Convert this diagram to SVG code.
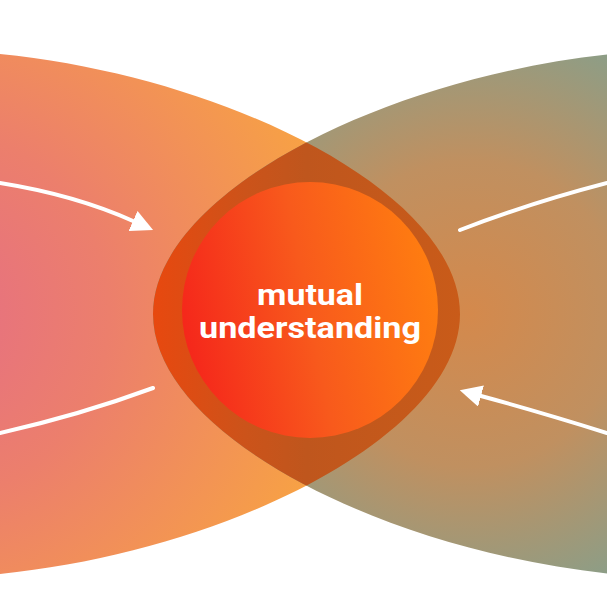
<svg xmlns="http://www.w3.org/2000/svg" width="607" height="607" viewBox="0 0 607 607">
  <style>
    .conn { fill: none; stroke: #ffffff; stroke-width: 4; stroke-linecap: round; }
    .label { font-family: Roboto, "Liberation Sans", sans-serif; font-weight: bold; font-size: 30px; fill: #ffffff; text-anchor: middle; }
  </style>
  <defs>
    <radialGradient id="gLeft" gradientUnits="userSpaceOnUse" cx="-80" cy="314" r="420">
      <stop offset="0" stop-color="#e56d86"/>
      <stop offset="0.45" stop-color="#ec7f6c"/>
      <stop offset="1" stop-color="#f7a145"/>
    </radialGradient>
    <radialGradient id="gRight" gradientUnits="userSpaceOnUse" cx="470" cy="314" r="340">
      <stop offset="0" stop-color="#d4894c"/>
      <stop offset="0.45" stop-color="#c09060"/>
      <stop offset="1" stop-color="#7ca293"/>
    </radialGradient>
    <linearGradient id="gOverlap" gradientUnits="userSpaceOnUse" x1="152" y1="314" x2="461" y2="314">
      <stop offset="0" stop-color="#e8480f"/>
      <stop offset="0.3" stop-color="#cc531a"/>
      <stop offset="0.5" stop-color="#bf561d"/>
      <stop offset="1" stop-color="#c95b19"/>
    </linearGradient>
    <linearGradient id="gCircle" gradientUnits="userSpaceOnUse" x1="182" y1="335" x2="438" y2="285">
      <stop offset="0" stop-color="#f5261b"/>
      <stop offset="0.5" stop-color="#f85a1c"/>
      <stop offset="1" stop-color="#ff7e10"/>
    </linearGradient>
    <path id="leftShape" d="M-30,50 L0,54 C230,77 460,194 460,314 C460,434 230,551 0,574 L-30,578 Z"/>
    <path id="rightShape" d="M643,50 L613,54 C383,77 153,194 153,314 C153,434 383,551 613,574 L643,578 Z"/>
    <clipPath id="clipLeft">
      <use href="#leftShape"/>
    </clipPath>
    <marker id="arrow" markerUnits="userSpaceOnUse" viewBox="0 0 22 22" refX="0" refY="11" markerWidth="22" markerHeight="22" orient="auto">
      <path d="M0,0 L22,11 L0,22 Z" fill="#ffffff"/>
    </marker>
  </defs>

  <g id="left-lens">
    <use href="#leftShape" fill="url(#gLeft)"/>
  </g>
  <g id="right-lens">
    <use href="#rightShape" fill="url(#gRight)"/>
  </g>
  <g id="overlap">
    <use href="#rightShape" fill="url(#gOverlap)" clip-path="url(#clipLeft)"/>
  </g>
  <g id="mutual-understanding">
    <circle cx="310" cy="310" r="128" fill="url(#gCircle)"/>
    <text class="label" x="310" y="305" textLength="106" lengthAdjust="spacingAndGlyphs">mutual</text>
    <text class="label" x="310" y="338" textLength="222" lengthAdjust="spacingAndGlyphs">understanding</text>
  </g>

  <g id="connectors">
    <path class="conn" d="M0,183 Q75,195 133,221" marker-end="url(#arrow)"/>
    <path class="conn" d="M0,433 Q80,415 153,388"/>
    <path class="conn" d="M460,230 Q530,203 607,183"/>
    <path class="conn" d="M607,433 Q540,412 481,396" marker-end="url(#arrow)"/>
  </g>
</svg>
